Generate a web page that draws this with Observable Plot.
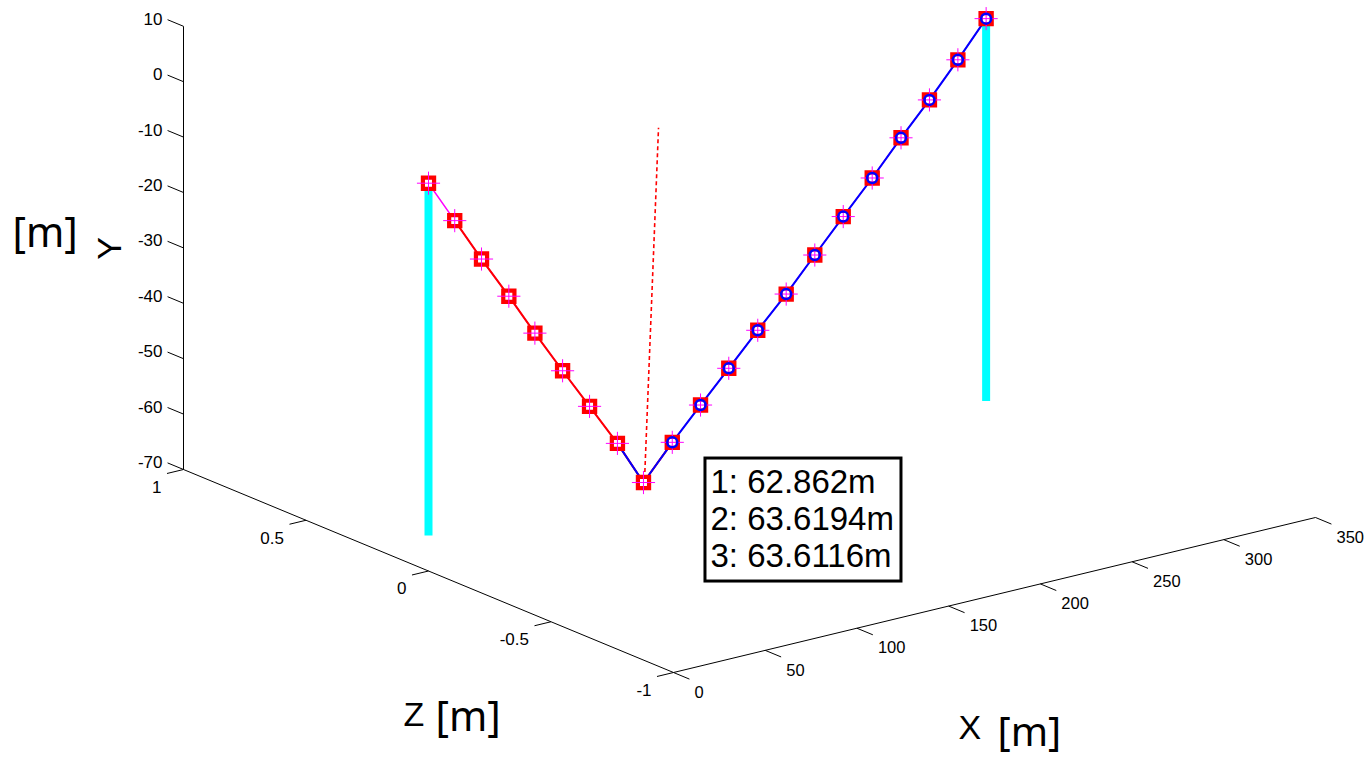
<!DOCTYPE html>
<html>
<head>
<meta charset="utf-8">
<script src="https://cdn.jsdelivr.net/npm/d3@7"></script>
<script src="https://cdn.jsdelivr.net/npm/@observablehq/plot@0.6"></script>
<style>
  html, body { margin: 0; padding: 0; background: #fff; overflow: hidden; }
  #chart svg { display: block; background: #fff; }
</style>
</head>
<body>
<div id="chart"></div>
<script>
// ---- Data (metres) ----
const cableX = [0, 14.3, 28.9, 43.8, 58.0, 73.1, 87.8, 103.0, 117.2,
                132.9, 148.3, 163.7, 179.5, 195.0, 210.6, 226.1, 241.9, 257.6, 273.1, 288.6, 304.0];
const cableY = [0, -7.9, -16.0, -23.9, -31.7, -39.7, -47.3, -55.2, -63.4,
                -57.4, -51.9, -46.5, -40.9, -35.6, -29.8, -24.1, -18.4, -12.4, -6.8, -0.8, 5.4];
const cableZ = [0, 0, 0, 0, 0, 0, 0, 0, 0, 0, 0, 0, 0, 0, 0, 0, 0, 0, 0, 0, 0];
const poleX = [0, 304.0];
const poleBottomY = [-63.6, -63.6];
const poleTopY = [0, 5.4];
const sagLineX = [117.8, 125.4];
const sagLineY = [-62.8, 0];
const sagValues = ["62.862", "63.6194", "63.6116"];
const xTicks = [0, 50, 100, 150, 200, 250, 300, 350];
const xTickLabels = ["0", "50", "100", "150", "200", "250", "300", "350"];
const yTicks = [10, 0, -10, -20, -30, -40, -50, -60, -70];
const yTickLabels = ["10", "0", "-10", "-20", "-30", "-40", "-50", "-60", "-70"];
const zTicks = [1, 0.5, 0, -0.5, -1];
const zTickLabels = ["1", "0.5", "0", "-0.5", "-1"];

// ---- 3D view (orthographic, MATLAB-like) ----
const xLim = [0, 350], yLim = [-70, 10], zLim = [-1, 1];
const view = {ox: 673, oy: 672, xx: 1.8343, xy: -0.4429, yy: -5.54, zx: -245, zy: -101.5};
function proj(X, Y, Z) {
  return [
    view.ox + view.xx * (X - xLim[0]) + view.zx * (Z - zLim[0]),
    view.oy + view.xy * (X - xLim[0]) + view.yy * (Y - yLim[0]) + view.zy * (Z - zLim[0])
  ];
}
const seg = (a, b) => ({p: proj(...a), q: proj(...b)});
const linkOpts = {x1: d => d.p[0], y1: d => d.p[1], x2: d => d.q[0], y2: d => d.q[1]};

const tz = 0.065, tx = 9;
const axesSegs = [
  seg([xLim[0], yLim[0], zLim[1]], [xLim[0], yLim[1], zLim[1]]),
  seg([xLim[0], yLim[0], zLim[1]], [xLim[0], yLim[0], zLim[0]]),
  seg([xLim[0], yLim[0], zLim[0]], [xLim[1], yLim[0], zLim[0]])
];
const yTickSegs = yTicks.map(v => seg([xLim[0], v, zLim[1]], [xLim[0], v, zLim[1] + tz]));
const zTickSegs = zTicks.map(v => seg([xLim[0], yLim[0], v], [xLim[0] - tx, yLim[0], v]));
const xTickSegs = xTicks.map(v => seg([v, yLim[0], zLim[0]], [v, yLim[0], zLim[0] - tz]));

const yLab = yTicks.map((v, i) => ({p: proj(xLim[0], v, zLim[1]), t: yTickLabels[i]}));
const zLab = zTicks.map((v, i) => ({p: proj(xLim[0], yLim[0], v), t: zTickLabels[i]}));
const xLab = xTicks.map((v, i) => ({p: proj(v, yLim[0], zLim[0]), t: xTickLabels[i]}));

const poles = poleX.map((x, i) => seg([x, poleBottomY[i], 0], [x, poleTopY[i], 0]));
const sagLine = [seg([sagLineX[0], sagLineY[0], 0], [sagLineX[1], sagLineY[1], 0])];
const nodes = cableX.map((x, i) => ({p: proj(x, cableY[i], cableZ[i])}));
const low = nodes[8].p;
const box = {x1: low[0] + 62, x2: low[0] + 258, y1: low[1] - 24, y2: low[1] + 99};

const tickFont = "Liberation Sans, Arial, sans-serif";
const unitFont = "Noto Sans, Open Sans, sans-serif";
const px = d => d.p[0], py = d => d.p[1];

const chart = Plot.plot({
  width: 1365,
  height: 758,
  margin: 0,
  x: {domain: [0, 1365], range: [0, 1365], axis: null},
  y: {domain: [0, 758], range: [0, 758], axis: null},
  marks: [
    Plot.link(axesSegs, {...linkOpts, stroke: "#000", strokeWidth: 1}),
    Plot.link(yTickSegs, {...linkOpts, stroke: "#000", strokeWidth: 1}),
    Plot.link(zTickSegs, {...linkOpts, stroke: "#000", strokeWidth: 1}),
    Plot.link(xTickSegs, {...linkOpts, stroke: "#000", strokeWidth: 1}),
    Plot.text(yLab, {x: px, y: py, text: "t", dx: -21, dy: -7, textAnchor: "end", lineAnchor: "middle", fontSize: 17, fontFamily: tickFont, fill: "#000"}),
    Plot.text(zLab, {x: px, y: py, text: "t", dx: -22, dy: 18, textAnchor: "end", lineAnchor: "middle", fontSize: 17, fontFamily: tickFont, fill: "#000"}),
    Plot.text(xLab, {x: px, y: py, text: "t", dx: 21, dy: 20, textAnchor: "start", lineAnchor: "middle", fontSize: 16.5, fontFamily: tickFont, fill: "#000"}),
    Plot.link(poles, {...linkOpts, stroke: "#00FFFF", strokeWidth: 8}),
    Plot.link(sagLine, {...linkOpts, stroke: "#FF0000", strokeWidth: 1.6, strokeDasharray: "4,3"}),
    Plot.line(nodes, {x: px, y: py, stroke: "#FF00FF", strokeWidth: 1.5}),
    Plot.line(nodes.slice(1, 10), {x: px, y: py, stroke: "#FF0000", strokeWidth: 2}),
    Plot.line(nodes.slice(7), {x: px, y: py, stroke: "#0000FF", strokeWidth: 2}),
    Plot.dot(nodes, {x: px, y: py, symbol: "square", r: 6.3, stroke: "#FF0000", strokeWidth: 4.2, fill: "white"}),
    Plot.dot(nodes, {x: px, y: py, symbol: "plus", r: 7.5, stroke: "#FF00FF", strokeWidth: 1, fill: "none"}),
    Plot.dot(nodes.slice(9), {x: px, y: py, symbol: "circle", r: 5, stroke: "#0000FF", strokeWidth: 2.5, fill: "none"}),
    Plot.rect([box], {x1: "x1", x2: "x2", y1: "y1", y2: "y2", fill: "white", stroke: "#000", strokeWidth: 3}),
    Plot.text(sagValues, {x: () => box.x1 + 5, y: (d, i) => box.y1 + 34 + i * 37.2, text: (d, i) => `${i + 1}: ${d}m`,
      textAnchor: "start", lineAnchor: "bottom", fontSize: 33, fontFamily: tickFont, fill: "#000"}),
    Plot.text(["Z"], {frameAnchor: "top-left", dx: 403, dy: 725, textAnchor: "start", lineAnchor: "bottom", fontSize: 34, fontFamily: tickFont, fill: "#000"}),
    Plot.text(["[m]"], {frameAnchor: "top-left", dx: 435, dy: 730, textAnchor: "start", lineAnchor: "bottom", fontSize: 41, fontFamily: unitFont, fill: "#000"}),
    Plot.text(["X"], {frameAnchor: "top-left", dx: 958, dy: 738, textAnchor: "start", lineAnchor: "bottom", fontSize: 34, fontFamily: tickFont, fill: "#000"}),
    Plot.text(["[m]"], {frameAnchor: "top-left", dx: 997, dy: 745, textAnchor: "start", lineAnchor: "bottom", fontSize: 40, fontFamily: unitFont, fill: "#000"}),
    Plot.text(["[m]"], {frameAnchor: "top-left", dx: 12, dy: 246, textAnchor: "start", lineAnchor: "bottom", fontSize: 41, fontFamily: unitFont, fill: "#000"}),
    Plot.text(["Y"], {frameAnchor: "top-left", dx: 120, dy: 248, rotate: -90, textAnchor: "middle", lineAnchor: "bottom", fontSize: 34, fontFamily: tickFont, fill: "#000"})
  ]
});
document.getElementById("chart").appendChild(chart);
</script>
</body>
</html>
